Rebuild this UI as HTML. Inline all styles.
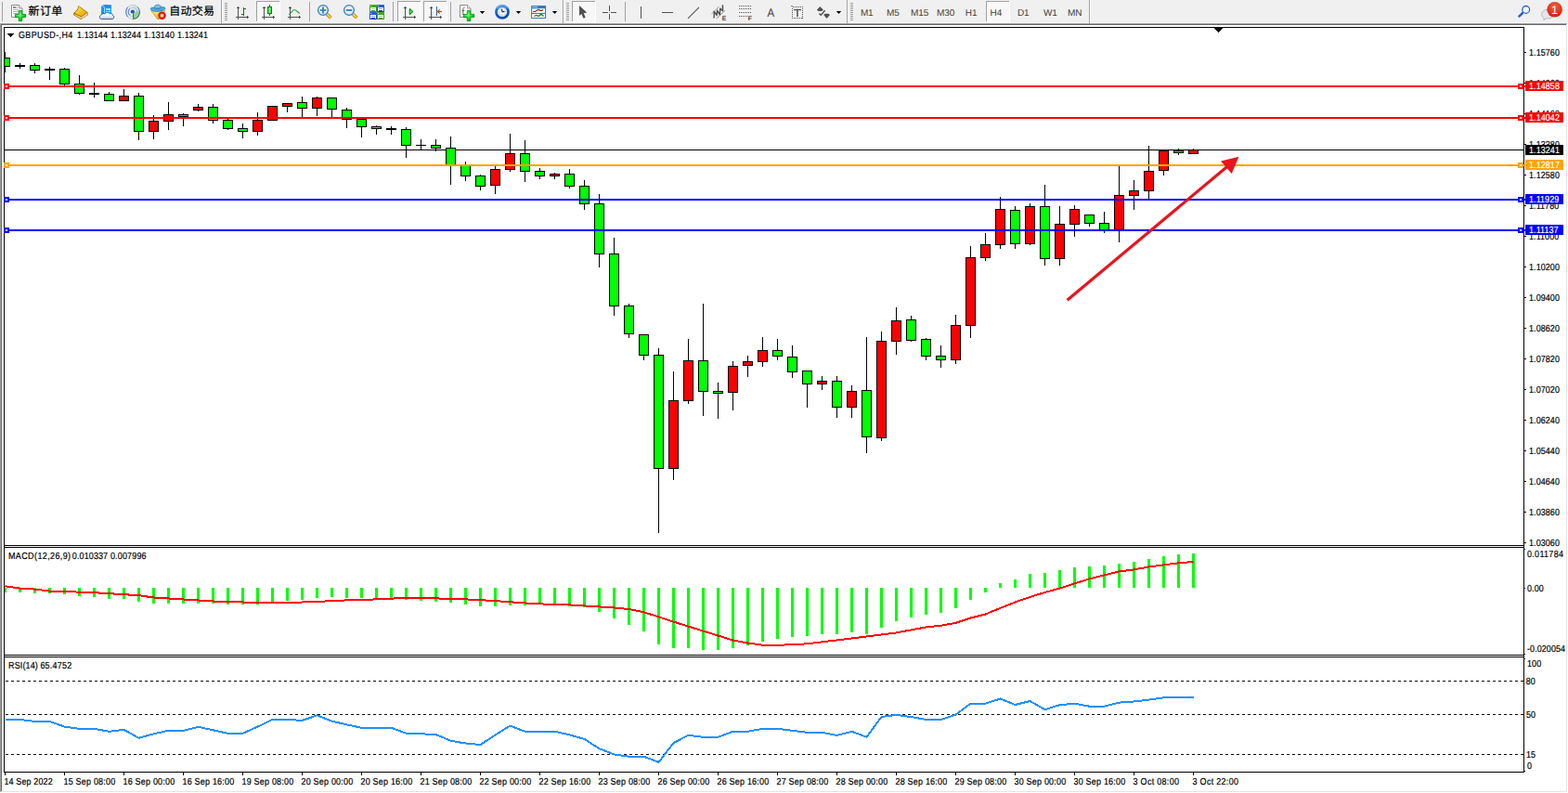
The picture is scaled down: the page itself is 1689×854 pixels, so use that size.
<!DOCTYPE html>
<html><head><meta charset="utf-8"><title>GBPUSD-,H4</title>
<style>html,body{margin:0;padding:0;background:#F0F0F0;overflow:hidden}svg{display:block}text{font-family:"Liberation Sans",sans-serif;white-space:pre}</style>
</head><body>
<svg width="1689" height="854" viewBox="0 0 1689 854">
<rect x="0" y="0" width="1689" height="854" fill="#F0F0F0"/>
<rect x="0" y="24" width="1689" height="1" fill="#F6F6F6"/>
<rect x="0" y="25" width="1689" height="829" fill="#FFFFFF"/>
<rect x="0" y="25" width="1688" height="1" fill="#A0A0A0"/>
<rect x="0" y="25" width="1" height="828" fill="#A0A0A0"/>
<rect x="1" y="26" width="1686" height="1" fill="#696969"/>
<rect x="1" y="26" width="1" height="826" fill="#696969"/>
<rect x="1" y="852" width="1687" height="1" fill="#E3E3E3"/>
<rect x="1687" y="26" width="1" height="827" fill="#E3E3E3"/>
<rect x="0" y="853" width="1689" height="1" fill="#FFFFFF"/>
<rect x="1688" y="25" width="1" height="829" fill="#FFFFFF"/>
<g shape-rendering="crispEdges">
<clipPath id="cm"><rect x="5" y="30" width="1636" height="557"/></clipPath>
<rect x="5" y="161" width="1636" height="1" fill="#000"/>
<g clip-path="url(#cm)">
<rect x="5" y="56" width="1" height="22" fill="#000"/>
<rect x="0" y="62" width="11" height="10" fill="#000"/>
<rect x="1" y="63" width="9" height="8" fill="#00FF00"/>
<rect x="21" y="68" width="1" height="6" fill="#000"/>
<rect x="16" y="70" width="11" height="2" fill="#000"/>
<rect x="37" y="68" width="1" height="11" fill="#000"/>
<rect x="32" y="70" width="11" height="6" fill="#000"/>
<rect x="33" y="71" width="9" height="4" fill="#00FF00"/>
<rect x="53" y="72" width="1" height="14" fill="#000"/>
<rect x="48" y="74" width="11" height="2" fill="#000"/>
<rect x="69" y="73" width="1" height="20" fill="#000"/>
<rect x="64" y="74" width="11" height="17" fill="#000"/>
<rect x="65" y="75" width="9" height="15" fill="#00FF00"/>
<rect x="85" y="81" width="1" height="21" fill="#000"/>
<rect x="80" y="90" width="11" height="11" fill="#000"/>
<rect x="81" y="91" width="9" height="9" fill="#00FF00"/>
<rect x="101" y="89" width="1" height="16" fill="#000"/>
<rect x="96" y="100" width="11" height="2" fill="#000"/>
<rect x="117" y="99" width="1" height="10" fill="#000"/>
<rect x="112" y="101" width="11" height="8" fill="#000"/>
<rect x="113" y="102" width="9" height="6" fill="#00FF00"/>
<rect x="133" y="96" width="1" height="13" fill="#000"/>
<rect x="128" y="103" width="11" height="6" fill="#000"/>
<rect x="129" y="104" width="9" height="4" fill="#FF0000"/>
<rect x="149" y="100" width="1" height="51" fill="#000"/>
<rect x="144" y="103" width="11" height="39" fill="#000"/>
<rect x="145" y="104" width="9" height="37" fill="#00FF00"/>
<rect x="165" y="124" width="1" height="26" fill="#000"/>
<rect x="160" y="130" width="11" height="12" fill="#000"/>
<rect x="161" y="131" width="9" height="10" fill="#FF0000"/>
<rect x="181" y="110" width="1" height="30" fill="#000"/>
<rect x="176" y="123" width="11" height="8" fill="#000"/>
<rect x="177" y="124" width="9" height="6" fill="#FF0000"/>
<rect x="197" y="122" width="1" height="14" fill="#000"/>
<rect x="192" y="123" width="11" height="3" fill="#000"/>
<rect x="193" y="124" width="9" height="1" fill="#00FF00"/>
<rect x="213" y="112" width="1" height="8" fill="#000"/>
<rect x="208" y="115" width="11" height="4" fill="#000"/>
<rect x="209" y="116" width="9" height="2" fill="#FF0000"/>
<rect x="229" y="112" width="1" height="21" fill="#000"/>
<rect x="224" y="115" width="11" height="15" fill="#000"/>
<rect x="225" y="116" width="9" height="13" fill="#00FF00"/>
<rect x="245" y="128" width="1" height="12" fill="#000"/>
<rect x="240" y="129" width="11" height="10" fill="#000"/>
<rect x="241" y="130" width="9" height="8" fill="#00FF00"/>
<rect x="261" y="133" width="1" height="16" fill="#000"/>
<rect x="256" y="138" width="11" height="4" fill="#000"/>
<rect x="257" y="139" width="9" height="2" fill="#00FF00"/>
<rect x="277" y="121" width="1" height="25" fill="#000"/>
<rect x="272" y="129" width="11" height="13" fill="#000"/>
<rect x="273" y="130" width="9" height="11" fill="#FF0000"/>
<rect x="293" y="114" width="1" height="16" fill="#000"/>
<rect x="288" y="114" width="11" height="16" fill="#000"/>
<rect x="289" y="115" width="9" height="14" fill="#FF0000"/>
<rect x="309" y="111" width="1" height="10" fill="#000"/>
<rect x="304" y="111" width="11" height="4" fill="#000"/>
<rect x="305" y="112" width="9" height="2" fill="#FF0000"/>
<rect x="325" y="104" width="1" height="22" fill="#000"/>
<rect x="320" y="110" width="11" height="7" fill="#000"/>
<rect x="321" y="111" width="9" height="5" fill="#00FF00"/>
<rect x="341" y="104" width="1" height="21" fill="#000"/>
<rect x="336" y="105" width="11" height="12" fill="#000"/>
<rect x="337" y="106" width="9" height="10" fill="#FF0000"/>
<rect x="357" y="105" width="1" height="21" fill="#000"/>
<rect x="352" y="105" width="11" height="13" fill="#000"/>
<rect x="353" y="106" width="9" height="11" fill="#00FF00"/>
<rect x="373" y="116" width="1" height="22" fill="#000"/>
<rect x="368" y="118" width="11" height="11" fill="#000"/>
<rect x="369" y="119" width="9" height="9" fill="#00FF00"/>
<rect x="389" y="128" width="1" height="20" fill="#000"/>
<rect x="384" y="128" width="11" height="9" fill="#000"/>
<rect x="385" y="129" width="9" height="7" fill="#00FF00"/>
<rect x="405" y="135" width="1" height="10" fill="#000"/>
<rect x="400" y="136" width="11" height="3" fill="#000"/>
<rect x="401" y="137" width="9" height="1" fill="#00FF00"/>
<rect x="421" y="136" width="1" height="9" fill="#000"/>
<rect x="416" y="138" width="11" height="2" fill="#000"/>
<rect x="437" y="137" width="1" height="33" fill="#000"/>
<rect x="432" y="139" width="11" height="18" fill="#000"/>
<rect x="433" y="140" width="9" height="16" fill="#00FF00"/>
<rect x="453" y="150" width="1" height="12" fill="#000"/>
<rect x="448" y="156" width="11" height="1" fill="#000"/>
<rect x="469" y="150" width="1" height="13" fill="#000"/>
<rect x="464" y="156" width="11" height="4" fill="#000"/>
<rect x="465" y="157" width="9" height="2" fill="#00FF00"/>
<rect x="485" y="147" width="1" height="52" fill="#000"/>
<rect x="480" y="159" width="11" height="19" fill="#000"/>
<rect x="481" y="160" width="9" height="17" fill="#00FF00"/>
<rect x="501" y="174" width="1" height="21" fill="#000"/>
<rect x="496" y="177" width="11" height="13" fill="#000"/>
<rect x="497" y="178" width="9" height="11" fill="#00FF00"/>
<rect x="517" y="188" width="1" height="17" fill="#000"/>
<rect x="512" y="189" width="11" height="12" fill="#000"/>
<rect x="513" y="190" width="9" height="10" fill="#00FF00"/>
<rect x="533" y="179" width="1" height="30" fill="#000"/>
<rect x="528" y="182" width="11" height="18" fill="#000"/>
<rect x="529" y="183" width="9" height="16" fill="#FF0000"/>
<rect x="549" y="144" width="1" height="41" fill="#000"/>
<rect x="544" y="165" width="11" height="18" fill="#000"/>
<rect x="545" y="166" width="9" height="16" fill="#FF0000"/>
<rect x="565" y="151" width="1" height="45" fill="#000"/>
<rect x="560" y="165" width="11" height="20" fill="#000"/>
<rect x="561" y="166" width="9" height="18" fill="#00FF00"/>
<rect x="581" y="181" width="1" height="12" fill="#000"/>
<rect x="576" y="184" width="11" height="6" fill="#000"/>
<rect x="577" y="185" width="9" height="4" fill="#00FF00"/>
<rect x="597" y="186" width="1" height="7" fill="#000"/>
<rect x="592" y="187" width="11" height="3" fill="#000"/>
<rect x="593" y="188" width="9" height="1" fill="#FF0000"/>
<rect x="613" y="182" width="1" height="21" fill="#000"/>
<rect x="608" y="187" width="11" height="14" fill="#000"/>
<rect x="609" y="188" width="9" height="12" fill="#00FF00"/>
<rect x="629" y="194" width="1" height="32" fill="#000"/>
<rect x="624" y="200" width="11" height="20" fill="#000"/>
<rect x="625" y="201" width="9" height="18" fill="#00FF00"/>
<rect x="645" y="209" width="1" height="79" fill="#000"/>
<rect x="640" y="219" width="11" height="55" fill="#000"/>
<rect x="641" y="220" width="9" height="53" fill="#00FF00"/>
<rect x="661" y="256" width="1" height="84" fill="#000"/>
<rect x="656" y="273" width="11" height="57" fill="#000"/>
<rect x="657" y="274" width="9" height="55" fill="#00FF00"/>
<rect x="677" y="327" width="1" height="37" fill="#000"/>
<rect x="672" y="329" width="11" height="31" fill="#000"/>
<rect x="673" y="330" width="9" height="29" fill="#00FF00"/>
<rect x="693" y="360" width="1" height="28" fill="#000"/>
<rect x="688" y="360" width="11" height="23" fill="#000"/>
<rect x="689" y="361" width="9" height="21" fill="#00FF00"/>
<rect x="709" y="375" width="1" height="199" fill="#000"/>
<rect x="704" y="382" width="11" height="123" fill="#000"/>
<rect x="705" y="383" width="9" height="121" fill="#00FF00"/>
<rect x="725" y="400" width="1" height="117" fill="#000"/>
<rect x="720" y="431" width="11" height="74" fill="#000"/>
<rect x="721" y="432" width="9" height="72" fill="#FF0000"/>
<rect x="741" y="365" width="1" height="70" fill="#000"/>
<rect x="736" y="388" width="11" height="44" fill="#000"/>
<rect x="737" y="389" width="9" height="42" fill="#FF0000"/>
<rect x="757" y="327" width="1" height="121" fill="#000"/>
<rect x="752" y="388" width="11" height="34" fill="#000"/>
<rect x="753" y="389" width="9" height="32" fill="#00FF00"/>
<rect x="773" y="412" width="1" height="39" fill="#000"/>
<rect x="768" y="421" width="11" height="3" fill="#000"/>
<rect x="769" y="422" width="9" height="1" fill="#00FF00"/>
<rect x="789" y="389" width="1" height="53" fill="#000"/>
<rect x="784" y="394" width="11" height="29" fill="#000"/>
<rect x="785" y="395" width="9" height="27" fill="#FF0000"/>
<rect x="805" y="383" width="1" height="23" fill="#000"/>
<rect x="800" y="389" width="11" height="5" fill="#000"/>
<rect x="801" y="390" width="9" height="3" fill="#FF0000"/>
<rect x="821" y="363" width="1" height="32" fill="#000"/>
<rect x="816" y="377" width="11" height="13" fill="#000"/>
<rect x="817" y="378" width="9" height="11" fill="#FF0000"/>
<rect x="837" y="365" width="1" height="23" fill="#000"/>
<rect x="832" y="377" width="11" height="7" fill="#000"/>
<rect x="833" y="378" width="9" height="5" fill="#00FF00"/>
<rect x="853" y="372" width="1" height="35" fill="#000"/>
<rect x="848" y="384" width="11" height="17" fill="#000"/>
<rect x="849" y="385" width="9" height="15" fill="#00FF00"/>
<rect x="869" y="399" width="1" height="40" fill="#000"/>
<rect x="864" y="399" width="11" height="15" fill="#000"/>
<rect x="865" y="400" width="9" height="13" fill="#00FF00"/>
<rect x="885" y="405" width="1" height="15" fill="#000"/>
<rect x="880" y="410" width="11" height="4" fill="#000"/>
<rect x="881" y="411" width="9" height="2" fill="#FF0000"/>
<rect x="901" y="405" width="1" height="45" fill="#000"/>
<rect x="896" y="410" width="11" height="29" fill="#000"/>
<rect x="897" y="411" width="9" height="27" fill="#00FF00"/>
<rect x="917" y="415" width="1" height="35" fill="#000"/>
<rect x="912" y="421" width="11" height="18" fill="#000"/>
<rect x="913" y="422" width="9" height="16" fill="#FF0000"/>
<rect x="933" y="363" width="1" height="125" fill="#000"/>
<rect x="928" y="420" width="11" height="51" fill="#000"/>
<rect x="929" y="421" width="9" height="49" fill="#00FF00"/>
<rect x="949" y="357" width="1" height="118" fill="#000"/>
<rect x="944" y="367" width="11" height="105" fill="#000"/>
<rect x="945" y="368" width="9" height="103" fill="#FF0000"/>
<rect x="965" y="331" width="1" height="51" fill="#000"/>
<rect x="960" y="345" width="11" height="23" fill="#000"/>
<rect x="961" y="346" width="9" height="21" fill="#FF0000"/>
<rect x="981" y="340" width="1" height="28" fill="#000"/>
<rect x="976" y="344" width="11" height="23" fill="#000"/>
<rect x="977" y="345" width="9" height="21" fill="#00FF00"/>
<rect x="997" y="364" width="1" height="24" fill="#000"/>
<rect x="992" y="365" width="11" height="19" fill="#000"/>
<rect x="993" y="366" width="9" height="17" fill="#00FF00"/>
<rect x="1013" y="372" width="1" height="24" fill="#000"/>
<rect x="1008" y="383" width="11" height="5" fill="#000"/>
<rect x="1009" y="384" width="9" height="3" fill="#00FF00"/>
<rect x="1029" y="339" width="1" height="53" fill="#000"/>
<rect x="1024" y="350" width="11" height="38" fill="#000"/>
<rect x="1025" y="351" width="9" height="36" fill="#FF0000"/>
<rect x="1045" y="265" width="1" height="99" fill="#000"/>
<rect x="1040" y="277" width="11" height="74" fill="#000"/>
<rect x="1041" y="278" width="9" height="72" fill="#FF0000"/>
<rect x="1061" y="251" width="1" height="30" fill="#000"/>
<rect x="1056" y="263" width="11" height="15" fill="#000"/>
<rect x="1057" y="264" width="9" height="13" fill="#FF0000"/>
<rect x="1077" y="212" width="1" height="56" fill="#000"/>
<rect x="1072" y="225" width="11" height="39" fill="#000"/>
<rect x="1073" y="226" width="9" height="37" fill="#FF0000"/>
<rect x="1093" y="222" width="1" height="46" fill="#000"/>
<rect x="1088" y="226" width="11" height="37" fill="#000"/>
<rect x="1089" y="227" width="9" height="35" fill="#00FF00"/>
<rect x="1109" y="219" width="1" height="45" fill="#000"/>
<rect x="1104" y="222" width="11" height="41" fill="#000"/>
<rect x="1105" y="223" width="9" height="39" fill="#FF0000"/>
<rect x="1125" y="199" width="1" height="87" fill="#000"/>
<rect x="1120" y="222" width="11" height="57" fill="#000"/>
<rect x="1121" y="223" width="9" height="55" fill="#00FF00"/>
<rect x="1141" y="222" width="1" height="64" fill="#000"/>
<rect x="1136" y="241" width="11" height="38" fill="#000"/>
<rect x="1137" y="242" width="9" height="36" fill="#FF0000"/>
<rect x="1157" y="221" width="1" height="34" fill="#000"/>
<rect x="1152" y="225" width="11" height="17" fill="#000"/>
<rect x="1153" y="226" width="9" height="15" fill="#FF0000"/>
<rect x="1173" y="231" width="1" height="13" fill="#000"/>
<rect x="1168" y="231" width="11" height="10" fill="#000"/>
<rect x="1169" y="232" width="9" height="8" fill="#00FF00"/>
<rect x="1189" y="228" width="1" height="23" fill="#000"/>
<rect x="1184" y="240" width="11" height="8" fill="#000"/>
<rect x="1185" y="241" width="9" height="6" fill="#00FF00"/>
<rect x="1205" y="179" width="1" height="82" fill="#000"/>
<rect x="1200" y="210" width="11" height="38" fill="#000"/>
<rect x="1201" y="211" width="9" height="36" fill="#FF0000"/>
<rect x="1221" y="194" width="1" height="32" fill="#000"/>
<rect x="1216" y="205" width="11" height="6" fill="#000"/>
<rect x="1217" y="206" width="9" height="4" fill="#FF0000"/>
<rect x="1237" y="157" width="1" height="57" fill="#000"/>
<rect x="1232" y="184" width="11" height="22" fill="#000"/>
<rect x="1233" y="185" width="9" height="20" fill="#FF0000"/>
<rect x="1253" y="162" width="1" height="27" fill="#000"/>
<rect x="1248" y="162" width="11" height="22" fill="#000"/>
<rect x="1249" y="163" width="9" height="20" fill="#FF0000"/>
<rect x="1269" y="160" width="1" height="7" fill="#000"/>
<rect x="1264" y="162" width="11" height="3" fill="#000"/>
<rect x="1265" y="163" width="9" height="1" fill="#00FF00"/>
<rect x="1285" y="160" width="1" height="6" fill="#000"/>
<rect x="1280" y="161" width="11" height="5" fill="#000"/>
<rect x="1281" y="162" width="9" height="3" fill="#FF0000"/>
</g>
<rect x="4" y="29" width="1" height="803" fill="#000"/>
<rect x="1641" y="29" width="1" height="803" fill="#000"/>
<rect x="4" y="29" width="1638" height="1" fill="#000"/>
<rect x="4" y="587" width="1638" height="1" fill="#000"/>
<rect x="4" y="589" width="1638" height="1" fill="#000"/>
<rect x="4" y="705" width="1638" height="1" fill="#000"/>
<rect x="4" y="707" width="1638" height="1" fill="#000"/>
<rect x="4" y="831" width="1638" height="1" fill="#000"/>
<rect x="5" y="92" width="1638" height="2" fill="#FF0000"/>
<rect x="4" y="90" width="6" height="6" fill="#FF0000"/>
<rect x="6" y="92" width="2" height="2" fill="#FFF"/>
<rect x="1635" y="90" width="6" height="6" fill="#FF0000"/>
<rect x="1637" y="92" width="2" height="2" fill="#FFF"/>
<rect x="5" y="126" width="1638" height="2" fill="#FF0000"/>
<rect x="4" y="124" width="6" height="6" fill="#FF0000"/>
<rect x="6" y="126" width="2" height="2" fill="#FFF"/>
<rect x="1635" y="124" width="6" height="6" fill="#FF0000"/>
<rect x="1637" y="126" width="2" height="2" fill="#FFF"/>
<rect x="5" y="177" width="1638" height="2" fill="#FFA500"/>
<rect x="4" y="175" width="6" height="6" fill="#FFA500"/>
<rect x="6" y="177" width="2" height="2" fill="#FFF"/>
<rect x="1635" y="175" width="6" height="6" fill="#FFA500"/>
<rect x="1637" y="177" width="2" height="2" fill="#FFF"/>
<rect x="5" y="214" width="1638" height="2" fill="#0000FF"/>
<rect x="4" y="212" width="6" height="6" fill="#0000FF"/>
<rect x="6" y="214" width="2" height="2" fill="#FFF"/>
<rect x="1635" y="212" width="6" height="6" fill="#0000FF"/>
<rect x="1637" y="214" width="2" height="2" fill="#FFF"/>
<rect x="5" y="247" width="1638" height="2" fill="#0000FF"/>
<rect x="4" y="245" width="6" height="6" fill="#0000FF"/>
<rect x="6" y="247" width="2" height="2" fill="#FFF"/>
<rect x="1635" y="245" width="6" height="6" fill="#0000FF"/>
<rect x="1637" y="247" width="2" height="2" fill="#FFF"/>
<rect x="1308" y="30" width="9" height="1" fill="#000"/>
<rect x="1309" y="31" width="7" height="1" fill="#000"/>
<rect x="1310" y="32" width="5" height="1" fill="#000"/>
<rect x="1311" y="33" width="3" height="1" fill="#000"/>
<rect x="1312" y="34" width="1" height="1" fill="#000"/>
</g>
<line x1="1149.6" y1="323.2" x2="1321.5" y2="179.8" stroke="#E8141E" stroke-width="3.2"/>
<polygon points="1334.5,168.8 1315.0,173.4 1326.7,187" fill="#E8141E"/>
<g shape-rendering="crispEdges">
<rect x="5" y="633" width="2" height="5" fill="#00FF00"/>
<rect x="20" y="633" width="3" height="5" fill="#00FF00"/>
<rect x="36" y="633" width="3" height="6" fill="#00FF00"/>
<rect x="52" y="633" width="3" height="6" fill="#00FF00"/>
<rect x="68" y="633" width="3" height="7" fill="#00FF00"/>
<rect x="84" y="633" width="3" height="9" fill="#00FF00"/>
<rect x="100" y="633" width="3" height="10" fill="#00FF00"/>
<rect x="116" y="633" width="3" height="12" fill="#00FF00"/>
<rect x="132" y="633" width="3" height="12" fill="#00FF00"/>
<rect x="148" y="633" width="3" height="15" fill="#00FF00"/>
<rect x="164" y="633" width="3" height="17" fill="#00FF00"/>
<rect x="180" y="633" width="3" height="17" fill="#00FF00"/>
<rect x="196" y="633" width="3" height="17" fill="#00FF00"/>
<rect x="212" y="633" width="3" height="17" fill="#00FF00"/>
<rect x="228" y="633" width="3" height="17" fill="#00FF00"/>
<rect x="244" y="633" width="3" height="18" fill="#00FF00"/>
<rect x="260" y="633" width="3" height="18" fill="#00FF00"/>
<rect x="276" y="633" width="3" height="18" fill="#00FF00"/>
<rect x="292" y="633" width="3" height="15" fill="#00FF00"/>
<rect x="308" y="633" width="3" height="14" fill="#00FF00"/>
<rect x="324" y="633" width="3" height="13" fill="#00FF00"/>
<rect x="340" y="633" width="3" height="11" fill="#00FF00"/>
<rect x="356" y="633" width="3" height="10" fill="#00FF00"/>
<rect x="372" y="633" width="3" height="11" fill="#00FF00"/>
<rect x="388" y="633" width="3" height="11" fill="#00FF00"/>
<rect x="404" y="633" width="3" height="11" fill="#00FF00"/>
<rect x="420" y="633" width="3" height="11" fill="#00FF00"/>
<rect x="436" y="633" width="3" height="13" fill="#00FF00"/>
<rect x="452" y="633" width="3" height="14" fill="#00FF00"/>
<rect x="468" y="633" width="3" height="15" fill="#00FF00"/>
<rect x="484" y="633" width="3" height="16" fill="#00FF00"/>
<rect x="500" y="633" width="3" height="18" fill="#00FF00"/>
<rect x="516" y="633" width="3" height="20" fill="#00FF00"/>
<rect x="532" y="633" width="3" height="20" fill="#00FF00"/>
<rect x="548" y="633" width="3" height="19" fill="#00FF00"/>
<rect x="564" y="633" width="3" height="19" fill="#00FF00"/>
<rect x="580" y="633" width="3" height="18" fill="#00FF00"/>
<rect x="596" y="633" width="3" height="18" fill="#00FF00"/>
<rect x="612" y="633" width="3" height="20" fill="#00FF00"/>
<rect x="628" y="633" width="3" height="21" fill="#00FF00"/>
<rect x="644" y="633" width="3" height="26" fill="#00FF00"/>
<rect x="660" y="633" width="3" height="33" fill="#00FF00"/>
<rect x="676" y="633" width="3" height="40" fill="#00FF00"/>
<rect x="692" y="633" width="3" height="47" fill="#00FF00"/>
<rect x="708" y="633" width="3" height="61" fill="#00FF00"/>
<rect x="724" y="633" width="3" height="65" fill="#00FF00"/>
<rect x="740" y="633" width="3" height="65" fill="#00FF00"/>
<rect x="756" y="633" width="3" height="67" fill="#00FF00"/>
<rect x="772" y="633" width="3" height="67" fill="#00FF00"/>
<rect x="788" y="633" width="3" height="65" fill="#00FF00"/>
<rect x="804" y="633" width="3" height="62" fill="#00FF00"/>
<rect x="820" y="633" width="3" height="58" fill="#00FF00"/>
<rect x="836" y="633" width="3" height="55" fill="#00FF00"/>
<rect x="852" y="633" width="3" height="53" fill="#00FF00"/>
<rect x="868" y="633" width="3" height="52" fill="#00FF00"/>
<rect x="884" y="633" width="3" height="50" fill="#00FF00"/>
<rect x="900" y="633" width="3" height="50" fill="#00FF00"/>
<rect x="916" y="633" width="3" height="48" fill="#00FF00"/>
<rect x="932" y="633" width="3" height="50" fill="#00FF00"/>
<rect x="948" y="633" width="3" height="43" fill="#00FF00"/>
<rect x="964" y="633" width="3" height="36" fill="#00FF00"/>
<rect x="980" y="633" width="3" height="32" fill="#00FF00"/>
<rect x="996" y="633" width="3" height="29" fill="#00FF00"/>
<rect x="1012" y="633" width="3" height="27" fill="#00FF00"/>
<rect x="1028" y="633" width="3" height="22" fill="#00FF00"/>
<rect x="1044" y="633" width="3" height="13" fill="#00FF00"/>
<rect x="1060" y="633" width="3" height="5" fill="#00FF00"/>
<rect x="1076" y="628" width="3" height="5" fill="#00FF00"/>
<rect x="1092" y="624" width="3" height="9" fill="#00FF00"/>
<rect x="1108" y="618" width="3" height="15" fill="#00FF00"/>
<rect x="1124" y="617" width="3" height="16" fill="#00FF00"/>
<rect x="1140" y="614" width="3" height="19" fill="#00FF00"/>
<rect x="1156" y="611" width="3" height="22" fill="#00FF00"/>
<rect x="1172" y="610" width="3" height="23" fill="#00FF00"/>
<rect x="1188" y="609" width="3" height="24" fill="#00FF00"/>
<rect x="1204" y="607" width="3" height="26" fill="#00FF00"/>
<rect x="1220" y="605" width="3" height="28" fill="#00FF00"/>
<rect x="1236" y="602" width="3" height="31" fill="#00FF00"/>
<rect x="1252" y="599" width="3" height="34" fill="#00FF00"/>
<rect x="1268" y="597" width="3" height="36" fill="#00FF00"/>
<rect x="1284" y="596" width="3" height="37" fill="#00FF00"/>
<polyline points="5.5,631.3 21.5,633.6 37.5,634.6 53.5,636.6 69.5,637.2 85.5,637.6 101.5,638.2 117.5,639.2 133.5,640.2 149.5,641.2 165.5,643.5 181.5,644.5 197.5,645.5 213.5,646.5 229.5,647.5 245.5,647.9 261.5,648.5 277.5,648.9 293.5,648.9 309.5,648.9 325.5,648.5 341.5,647.9 357.5,647.2 373.5,646.4 389.5,645.9 405.5,645.4 421.5,644.6 437.5,643.9 453.5,643.9 469.5,644.4 485.5,644.9 501.5,645.4 517.5,646.2 533.5,647.1 549.5,648.3 565.5,649.4 581.5,650.4 597.5,650.9 613.5,651.4 629.5,652.4 645.5,653.4 661.5,654.5 677.5,656.0 693.5,659.3 709.5,664.3 725.5,669.6 741.5,674.6 757.5,679.6 773.5,684.5 789.5,689.5 805.5,692.5 821.5,694.7 837.5,694.7 853.5,694.3 869.5,693.3 885.5,691.3 901.5,689.4 917.5,687.4 933.5,685.4 949.5,683.4 965.5,681.4 981.5,678.4 997.5,675.4 1013.5,673.8 1029.5,670.8 1045.5,665.5 1061.5,661.5 1077.5,654.8 1093.5,648.5 1109.5,642.9 1125.5,638.0 1141.5,633.6 1157.5,628.4 1173.5,623.4 1189.5,619.4 1205.5,615.4 1221.5,613.4 1237.5,610.5 1253.5,608.3 1269.5,606.3 1285.5,604.9" fill="none" stroke="#FF0000" stroke-width="2" stroke-linejoin="round"/>
<line x1="6" y1="733.5" x2="1641" y2="733.5" stroke="#000" stroke-width="1" stroke-dasharray="3 3"/>
<line x1="6" y1="769.5" x2="1641" y2="769.5" stroke="#000" stroke-width="1" stroke-dasharray="3 3"/>
<line x1="6" y1="812.5" x2="1641" y2="812.5" stroke="#000" stroke-width="1" stroke-dasharray="3 3"/>
<polyline points="5.5,774.9 21.5,774.9 37.5,776.9 53.5,776.9 69.5,782.6 85.5,784.8 101.5,784.8 117.5,787.8 133.5,785.8 149.5,794.8 165.5,790.3 181.5,786.8 197.5,786.8 213.5,782.8 229.5,786.3 245.5,789.8 261.5,789.8 277.5,782.6 293.5,774.9 309.5,774.9 325.5,775.9 341.5,770.4 357.5,776.6 373.5,780.4 389.5,783.8 405.5,783.8 421.5,783.8 437.5,789.8 453.5,790.3 469.5,791.0 485.5,797.8 501.5,800.5 517.5,802.0 533.5,791.5 549.5,781.6 565.5,787.8 581.5,787.8 597.5,787.8 613.5,791.3 629.5,796.0 645.5,806.2 661.5,812.4 677.5,814.7 693.5,814.7 709.5,820.9 725.5,800.0 741.5,791.8 757.5,793.8 773.5,793.8 789.5,787.8 805.5,787.8 821.5,784.8 837.5,784.8 853.5,786.8 869.5,788.8 885.5,788.8 901.5,792.0 917.5,787.8 933.5,793.8 949.5,771.9 965.5,769.9 981.5,772.1 997.5,774.9 1013.5,774.9 1029.5,769.7 1045.5,757.7 1061.5,757.7 1077.5,752.5 1093.5,759.0 1109.5,755.0 1125.5,764.2 1141.5,759.2 1157.5,757.7 1173.5,760.7 1189.5,760.7 1205.5,756.6 1221.5,755.5 1237.5,753.6 1253.5,751.3 1269.5,750.7 1285.5,750.7" fill="none" stroke="#1E90FF" stroke-width="2" stroke-linejoin="round"/>
<rect x="1642" y="56" width="2" height="1" fill="#000"/>
<rect x="1642" y="89" width="2" height="1" fill="#000"/>
<rect x="1642" y="122" width="2" height="1" fill="#000"/>
<rect x="1642" y="155" width="2" height="1" fill="#000"/>
<rect x="1642" y="188" width="2" height="1" fill="#000"/>
<rect x="1642" y="221" width="2" height="1" fill="#000"/>
<rect x="1642" y="254" width="2" height="1" fill="#000"/>
<rect x="1642" y="287" width="2" height="1" fill="#000"/>
<rect x="1642" y="320" width="2" height="1" fill="#000"/>
<rect x="1642" y="353" width="2" height="1" fill="#000"/>
<rect x="1642" y="386" width="2" height="1" fill="#000"/>
<rect x="1642" y="419" width="2" height="1" fill="#000"/>
<rect x="1642" y="452" width="2" height="1" fill="#000"/>
<rect x="1642" y="485" width="2" height="1" fill="#000"/>
<rect x="1642" y="518" width="2" height="1" fill="#000"/>
<rect x="1642" y="551" width="2" height="1" fill="#000"/>
<rect x="1642" y="584" width="2" height="1" fill="#000"/>
<rect x="1642" y="591" width="1" height="1" fill="#000"/>
<rect x="1642" y="633" width="1" height="1" fill="#000"/>
<rect x="1642" y="704" width="1" height="1" fill="#000"/>
<rect x="1642" y="709" width="1" height="1" fill="#000"/>
<rect x="1642" y="830" width="1" height="1" fill="#000"/>
<rect x="5" y="832" width="1" height="3" fill="#000"/>
<rect x="69" y="832" width="1" height="3" fill="#000"/>
<rect x="133" y="832" width="1" height="3" fill="#000"/>
<rect x="197" y="832" width="1" height="3" fill="#000"/>
<rect x="261" y="832" width="1" height="3" fill="#000"/>
<rect x="325" y="832" width="1" height="3" fill="#000"/>
<rect x="389" y="832" width="1" height="3" fill="#000"/>
<rect x="453" y="832" width="1" height="3" fill="#000"/>
<rect x="517" y="832" width="1" height="3" fill="#000"/>
<rect x="581" y="832" width="1" height="3" fill="#000"/>
<rect x="645" y="832" width="1" height="3" fill="#000"/>
<rect x="709" y="832" width="1" height="3" fill="#000"/>
<rect x="773" y="832" width="1" height="3" fill="#000"/>
<rect x="837" y="832" width="1" height="3" fill="#000"/>
<rect x="901" y="832" width="1" height="3" fill="#000"/>
<rect x="965" y="832" width="1" height="3" fill="#000"/>
<rect x="1029" y="832" width="1" height="3" fill="#000"/>
<rect x="1093" y="832" width="1" height="3" fill="#000"/>
<rect x="1157" y="832" width="1" height="3" fill="#000"/>
<rect x="1221" y="832" width="1" height="3" fill="#000"/>
<rect x="1285" y="832" width="1" height="3" fill="#000"/>
</g>
<g font-family="Liberation Sans, sans-serif" text-rendering="geometricPrecision">
<text transform="translate(1647,60) scale(0.88,1)" font-size="10.2" fill="#000" stroke="#000" stroke-width="0.2" letter-spacing="0.091">1.15760</text>
<text transform="translate(1647,93) scale(0.88,1)" font-size="10.2" fill="#000" stroke="#000" stroke-width="0.2" letter-spacing="0.091">1.14960</text>
<text transform="translate(1647,126) scale(0.88,1)" font-size="10.2" fill="#000" stroke="#000" stroke-width="0.2" letter-spacing="0.091">1.14160</text>
<text transform="translate(1647,159) scale(0.88,1)" font-size="10.2" fill="#000" stroke="#000" stroke-width="0.2" letter-spacing="0.091">1.13380</text>
<text transform="translate(1647,192) scale(0.88,1)" font-size="10.2" fill="#000" stroke="#000" stroke-width="0.2" letter-spacing="0.091">1.12580</text>
<text transform="translate(1647,225) scale(0.88,1)" font-size="10.2" fill="#000" stroke="#000" stroke-width="0.2" letter-spacing="0.091">1.11780</text>
<text transform="translate(1647,258) scale(0.88,1)" font-size="10.2" fill="#000" stroke="#000" stroke-width="0.2" letter-spacing="0.091">1.11000</text>
<text transform="translate(1647,291) scale(0.88,1)" font-size="10.2" fill="#000" stroke="#000" stroke-width="0.2" letter-spacing="0.091">1.10200</text>
<text transform="translate(1647,324) scale(0.88,1)" font-size="10.2" fill="#000" stroke="#000" stroke-width="0.2" letter-spacing="0.091">1.09400</text>
<text transform="translate(1647,357) scale(0.88,1)" font-size="10.2" fill="#000" stroke="#000" stroke-width="0.2" letter-spacing="0.091">1.08620</text>
<text transform="translate(1647,390) scale(0.88,1)" font-size="10.2" fill="#000" stroke="#000" stroke-width="0.2" letter-spacing="0.091">1.07820</text>
<text transform="translate(1647,423) scale(0.88,1)" font-size="10.2" fill="#000" stroke="#000" stroke-width="0.2" letter-spacing="0.091">1.07020</text>
<text transform="translate(1647,456) scale(0.88,1)" font-size="10.2" fill="#000" stroke="#000" stroke-width="0.2" letter-spacing="0.091">1.06240</text>
<text transform="translate(1647,489) scale(0.88,1)" font-size="10.2" fill="#000" stroke="#000" stroke-width="0.2" letter-spacing="0.091">1.05440</text>
<text transform="translate(1647,522) scale(0.88,1)" font-size="10.2" fill="#000" stroke="#000" stroke-width="0.2" letter-spacing="0.091">1.04640</text>
<text transform="translate(1647,555) scale(0.88,1)" font-size="10.2" fill="#000" stroke="#000" stroke-width="0.2" letter-spacing="0.091">1.03860</text>
<text transform="translate(1647,588) scale(0.88,1)" font-size="10.2" fill="#000" stroke="#000" stroke-width="0.2" letter-spacing="0.091">1.03060</text>
<rect x="1643" y="156" width="41" height="11" fill="#000" shape-rendering="crispEdges"/>
<text transform="translate(1647,165) scale(0.88,1)" font-size="10.2" fill="#FFF" stroke="#FFF" stroke-width="0.2" letter-spacing="0.091">1.13241</text>
<rect x="1643" y="87" width="41" height="11" fill="#FF0000" shape-rendering="crispEdges"/>
<text transform="translate(1647,96) scale(0.88,1)" font-size="10.2" fill="#FFF" stroke="#FFF" stroke-width="0.2" letter-spacing="0.091">1.14858</text>
<rect x="1643" y="121" width="41" height="11" fill="#FF0000" shape-rendering="crispEdges"/>
<text transform="translate(1647,130) scale(0.88,1)" font-size="10.2" fill="#FFF" stroke="#FFF" stroke-width="0.2" letter-spacing="0.091">1.14042</text>
<rect x="1643" y="172" width="41" height="11" fill="#FFA500" shape-rendering="crispEdges"/>
<text transform="translate(1647,181) scale(0.88,1)" font-size="10.2" fill="#FFF" stroke="#FFF" stroke-width="0.2" letter-spacing="0.091">1.12817</text>
<rect x="1643" y="209" width="41" height="11" fill="#0000FF" shape-rendering="crispEdges"/>
<text transform="translate(1647,218) scale(0.88,1)" font-size="10.2" fill="#FFF" stroke="#FFF" stroke-width="0.2" letter-spacing="0.091">1.11929</text>
<rect x="1643" y="242" width="41" height="11" fill="#0000FF" shape-rendering="crispEdges"/>
<text transform="translate(1647,251) scale(0.88,1)" font-size="10.2" fill="#FFF" stroke="#FFF" stroke-width="0.2" letter-spacing="0.091">1.11137</text>
<text transform="translate(1645,600) scale(0.88,1)" font-size="10.2" fill="#000" stroke="#000" stroke-width="0.2" letter-spacing="0.364">0.011784</text>
<text transform="translate(1645,637) scale(0.88,1)" font-size="10.2" fill="#000" stroke="#000" stroke-width="0.2" letter-spacing="0.091">0.00</text>
<text transform="translate(1645,702) scale(0.88,1)" font-size="10.2" fill="#000" stroke="#000" stroke-width="0.2" letter-spacing="0.091">-0.020054</text>
<text transform="translate(1645,718) scale(0.88,1)" font-size="10.2" fill="#000" stroke="#000" stroke-width="0.2" letter-spacing="0.091">100</text>
<text transform="translate(1643.7,737) scale(0.88,1)" font-size="10.2" fill="#000" stroke="#000" stroke-width="0.2" letter-spacing="0.091">80</text>
<text transform="translate(1643.9,773) scale(0.88,1)" font-size="10.2" fill="#000" stroke="#000" stroke-width="0.2" letter-spacing="0.091">50</text>
<text transform="translate(1643.9,816) scale(0.88,1)" font-size="10.2" fill="#000" stroke="#000" stroke-width="0.2" letter-spacing="0.091">15</text>
<text transform="translate(1645,828) scale(0.88,1)" font-size="10.2" fill="#000" stroke="#000" stroke-width="0.2" letter-spacing="0.091">0</text>
<text transform="translate(4.5,845) scale(0.88,1)" font-size="10.2" fill="#000" stroke="#000" stroke-width="0.2" letter-spacing="0.148">14 Sep 2022</text>
<text transform="translate(68.5,845) scale(0.88,1)" font-size="10.2" fill="#000" stroke="#000" stroke-width="0.2" letter-spacing="0.239">15 Sep 08:00</text>
<text transform="translate(132.5,845) scale(0.88,1)" font-size="10.2" fill="#000" stroke="#000" stroke-width="0.2" letter-spacing="0.239">16 Sep 00:00</text>
<text transform="translate(196.5,845) scale(0.88,1)" font-size="10.2" fill="#000" stroke="#000" stroke-width="0.2" letter-spacing="0.239">16 Sep 16:00</text>
<text transform="translate(260.5,845) scale(0.88,1)" font-size="10.2" fill="#000" stroke="#000" stroke-width="0.2" letter-spacing="0.239">19 Sep 08:00</text>
<text transform="translate(324.5,845) scale(0.88,1)" font-size="10.2" fill="#000" stroke="#000" stroke-width="0.2" letter-spacing="0.239">20 Sep 00:00</text>
<text transform="translate(388.5,845) scale(0.88,1)" font-size="10.2" fill="#000" stroke="#000" stroke-width="0.2" letter-spacing="0.239">20 Sep 16:00</text>
<text transform="translate(452.5,845) scale(0.88,1)" font-size="10.2" fill="#000" stroke="#000" stroke-width="0.2" letter-spacing="0.239">21 Sep 08:00</text>
<text transform="translate(516.5,845) scale(0.88,1)" font-size="10.2" fill="#000" stroke="#000" stroke-width="0.2" letter-spacing="0.239">22 Sep 00:00</text>
<text transform="translate(580.5,845) scale(0.88,1)" font-size="10.2" fill="#000" stroke="#000" stroke-width="0.2" letter-spacing="0.239">22 Sep 16:00</text>
<text transform="translate(644.5,845) scale(0.88,1)" font-size="10.2" fill="#000" stroke="#000" stroke-width="0.2" letter-spacing="0.239">23 Sep 08:00</text>
<text transform="translate(708.5,845) scale(0.88,1)" font-size="10.2" fill="#000" stroke="#000" stroke-width="0.2" letter-spacing="0.239">26 Sep 00:00</text>
<text transform="translate(772.5,845) scale(0.88,1)" font-size="10.2" fill="#000" stroke="#000" stroke-width="0.2" letter-spacing="0.239">26 Sep 16:00</text>
<text transform="translate(836.5,845) scale(0.88,1)" font-size="10.2" fill="#000" stroke="#000" stroke-width="0.2" letter-spacing="0.239">27 Sep 08:00</text>
<text transform="translate(900.5,845) scale(0.88,1)" font-size="10.2" fill="#000" stroke="#000" stroke-width="0.2" letter-spacing="0.239">28 Sep 00:00</text>
<text transform="translate(964.5,845) scale(0.88,1)" font-size="10.2" fill="#000" stroke="#000" stroke-width="0.2" letter-spacing="0.239">28 Sep 16:00</text>
<text transform="translate(1028.5,845) scale(0.88,1)" font-size="10.2" fill="#000" stroke="#000" stroke-width="0.2" letter-spacing="0.239">29 Sep 08:00</text>
<text transform="translate(1092.5,845) scale(0.88,1)" font-size="10.2" fill="#000" stroke="#000" stroke-width="0.2" letter-spacing="0.239">30 Sep 00:00</text>
<text transform="translate(1156.5,845) scale(0.88,1)" font-size="10.2" fill="#000" stroke="#000" stroke-width="0.2" letter-spacing="0.239">30 Sep 16:00</text>
<text transform="translate(1220.5,845) scale(0.88,1)" font-size="10.2" fill="#000" stroke="#000" stroke-width="0.2" letter-spacing="0.353">3 Oct 08:00</text>
<text transform="translate(1284.5,845) scale(0.88,1)" font-size="10.2" fill="#000" stroke="#000" stroke-width="0.2" letter-spacing="0.353">3 Oct 22:00</text>
<polygon points="8,36 15,36 11.5,40" fill="#000" shape-rendering="crispEdges"/>
<text transform="translate(20,41) scale(0.88,1)" font-size="10.2" fill="#000" stroke="#000" stroke-width="0.2" letter-spacing="0.432">GBPUSD-,H4</text>
<text transform="translate(83,41) scale(0.88,1)" font-size="10.2" fill="#000" stroke="#000" stroke-width="0.2" letter-spacing="0.091">1.13144</text>
<text transform="translate(119,41) scale(0.88,1)" font-size="10.2" fill="#000" stroke="#000" stroke-width="0.2" letter-spacing="0.091">1.13244</text>
<text transform="translate(155,41) scale(0.88,1)" font-size="10.2" fill="#000" stroke="#000" stroke-width="0.2" letter-spacing="0.091">1.13140</text>
<text transform="translate(191,41) scale(0.88,1)" font-size="10.2" fill="#000" stroke="#000" stroke-width="0.2" letter-spacing="0.091">1.13241</text>
<text transform="translate(9,602) scale(0.88,1)" font-size="10.2" fill="#000" stroke="#000" stroke-width="0.2" letter-spacing="0.455">MACD(12,26,9)</text>
<text transform="translate(77.8,602) scale(0.88,1)" font-size="10.2" fill="#000" stroke="#000" stroke-width="0.2" letter-spacing="0.148">0.010337</text>
<text transform="translate(118.9,602) scale(0.88,1)" font-size="10.2" fill="#000" stroke="#000" stroke-width="0.2" letter-spacing="0.205">0.007996</text>
<text transform="translate(9,720) scale(0.88,1)" font-size="10.2" fill="#000" stroke="#000" stroke-width="0.2" letter-spacing="0.182">RSI(14)</text>
<text transform="translate(43.4,720) scale(0.88,1)" font-size="10.2" fill="#000" stroke="#000" stroke-width="0.2" letter-spacing="0.262">65.4752</text>
</g>
<defs>
<pattern id="chk" width="2" height="2" patternUnits="userSpaceOnUse"><rect width="2" height="2" fill="#FFFFFF"/><rect width="1" height="1" fill="#F0F0F0"/><rect x="1" y="1" width="1" height="1" fill="#F0F0F0"/></pattern>
<radialGradient id="gPlus" cx="0.42" cy="0.4" r="0.6"><stop offset="0" stop-color="#7CFF88"/><stop offset="0.55" stop-color="#18E030"/><stop offset="1" stop-color="#00B010"/></radialGradient>
<linearGradient id="gGold" x1="0" y1="0" x2="1" y2="1"><stop offset="0" stop-color="#FFF078"/><stop offset="0.45" stop-color="#F4C81C"/><stop offset="1" stop-color="#DCA010"/></linearGradient>
<linearGradient id="gBlue" x1="0" y1="0" x2="0" y2="1"><stop offset="0" stop-color="#5AB0F0"/><stop offset="1" stop-color="#1060C8"/></linearGradient>
<linearGradient id="gGreenT" x1="0" y1="0" x2="0" y2="1"><stop offset="0" stop-color="#44AC20"/><stop offset="1" stop-color="#2C9808"/></linearGradient>
<linearGradient id="gBlueT" x1="0" y1="0" x2="0" y2="1"><stop offset="0" stop-color="#3464D8"/><stop offset="1" stop-color="#0C38BC"/></linearGradient>
<radialGradient id="gLens" cx="0.4" cy="0.35" r="0.7"><stop offset="0" stop-color="#FFFFFF"/><stop offset="1" stop-color="#B8E0F8"/></radialGradient>
<radialGradient id="gRed" cx="0.5" cy="0.3" r="0.8"><stop offset="0" stop-color="#F06040"/><stop offset="1" stop-color="#D01808"/></radialGradient>
<linearGradient id="gHandle" x1="0" y1="0" x2="1" y2="0"><stop offset="0" stop-color="#F8E070"/><stop offset="1" stop-color="#B88810"/></linearGradient>
<radialGradient id="gClock" cx="0.5" cy="0.4" r="0.6"><stop offset="0" stop-color="#FFFFFF"/><stop offset="1" stop-color="#D8E4F0"/></radialGradient>
<linearGradient id="gCandle" x1="0" y1="0" x2="1" y2="0"><stop offset="0" stop-color="#38E048"/><stop offset="0.5" stop-color="#88FF90"/><stop offset="1" stop-color="#28D038"/></linearGradient>
<linearGradient id="gHat" x1="0" y1="0" x2="0" y2="1"><stop offset="0" stop-color="#9CD4F4"/><stop offset="1" stop-color="#4CA4DC"/></linearGradient>
<linearGradient id="gFace" x1="0" y1="0" x2="0" y2="1"><stop offset="0" stop-color="#FFF080"/><stop offset="1" stop-color="#E8B010"/></linearGradient>
<linearGradient id="gCloud" x1="0" y1="0" x2="0" y2="1"><stop offset="0" stop-color="#FFFFFF"/><stop offset="0.5" stop-color="#F0F4FA"/><stop offset="1" stop-color="#B4C2DC"/></linearGradient>
<linearGradient id="gRing" x1="0.2" y1="0" x2="0.7" y2="1"><stop offset="0" stop-color="#2C8CF0"/><stop offset="0.5" stop-color="#0C60C0"/><stop offset="1" stop-color="#0848A0"/></linearGradient>
</defs>
<g id="toolbar" text-rendering="geometricPrecision">
<rect x="2" y="2" width="1" height="21" fill="#A0A0A0" shape-rendering="crispEdges"/>
<rect x="238" y="0" width="1" height="25" fill="#A0A0A0" shape-rendering="crispEdges"/>
<rect x="239" y="0" width="1" height="25" fill="#FFFFFF" shape-rendering="crispEdges"/>
<rect x="606" y="0" width="1" height="25" fill="#A0A0A0" shape-rendering="crispEdges"/>
<rect x="607" y="0" width="1" height="25" fill="#FFFFFF" shape-rendering="crispEdges"/>
<rect x="912" y="0" width="1" height="25" fill="#A0A0A0" shape-rendering="crispEdges"/>
<rect x="913" y="0" width="1" height="25" fill="#FFFFFF" shape-rendering="crispEdges"/>
<rect x="1173" y="0" width="1" height="25" fill="#A0A0A0" shape-rendering="crispEdges"/>
<rect x="1174" y="0" width="1" height="25" fill="#FFFFFF" shape-rendering="crispEdges"/>
<rect x="242" y="3" width="3" height="1" fill="#9C9C9C" shape-rendering="crispEdges"/>
<rect x="242" y="5" width="3" height="1" fill="#9C9C9C" shape-rendering="crispEdges"/>
<rect x="242" y="7" width="3" height="1" fill="#9C9C9C" shape-rendering="crispEdges"/>
<rect x="242" y="9" width="3" height="1" fill="#9C9C9C" shape-rendering="crispEdges"/>
<rect x="242" y="11" width="3" height="1" fill="#9C9C9C" shape-rendering="crispEdges"/>
<rect x="242" y="13" width="3" height="1" fill="#9C9C9C" shape-rendering="crispEdges"/>
<rect x="242" y="15" width="3" height="1" fill="#9C9C9C" shape-rendering="crispEdges"/>
<rect x="242" y="17" width="3" height="1" fill="#9C9C9C" shape-rendering="crispEdges"/>
<rect x="242" y="19" width="3" height="1" fill="#9C9C9C" shape-rendering="crispEdges"/>
<rect x="242" y="21" width="3" height="1" fill="#9C9C9C" shape-rendering="crispEdges"/>
<rect x="610" y="3" width="3" height="1" fill="#9C9C9C" shape-rendering="crispEdges"/>
<rect x="610" y="5" width="3" height="1" fill="#9C9C9C" shape-rendering="crispEdges"/>
<rect x="610" y="7" width="3" height="1" fill="#9C9C9C" shape-rendering="crispEdges"/>
<rect x="610" y="9" width="3" height="1" fill="#9C9C9C" shape-rendering="crispEdges"/>
<rect x="610" y="11" width="3" height="1" fill="#9C9C9C" shape-rendering="crispEdges"/>
<rect x="610" y="13" width="3" height="1" fill="#9C9C9C" shape-rendering="crispEdges"/>
<rect x="610" y="15" width="3" height="1" fill="#9C9C9C" shape-rendering="crispEdges"/>
<rect x="610" y="17" width="3" height="1" fill="#9C9C9C" shape-rendering="crispEdges"/>
<rect x="610" y="19" width="3" height="1" fill="#9C9C9C" shape-rendering="crispEdges"/>
<rect x="610" y="21" width="3" height="1" fill="#9C9C9C" shape-rendering="crispEdges"/>
<rect x="916" y="3" width="3" height="1" fill="#9C9C9C" shape-rendering="crispEdges"/>
<rect x="916" y="5" width="3" height="1" fill="#9C9C9C" shape-rendering="crispEdges"/>
<rect x="916" y="7" width="3" height="1" fill="#9C9C9C" shape-rendering="crispEdges"/>
<rect x="916" y="9" width="3" height="1" fill="#9C9C9C" shape-rendering="crispEdges"/>
<rect x="916" y="11" width="3" height="1" fill="#9C9C9C" shape-rendering="crispEdges"/>
<rect x="916" y="13" width="3" height="1" fill="#9C9C9C" shape-rendering="crispEdges"/>
<rect x="916" y="15" width="3" height="1" fill="#9C9C9C" shape-rendering="crispEdges"/>
<rect x="916" y="17" width="3" height="1" fill="#9C9C9C" shape-rendering="crispEdges"/>
<rect x="916" y="19" width="3" height="1" fill="#9C9C9C" shape-rendering="crispEdges"/>
<rect x="916" y="21" width="3" height="1" fill="#9C9C9C" shape-rendering="crispEdges"/>
<rect x="333" y="2" width="1" height="21" fill="#A0A0A0" shape-rendering="crispEdges"/>
<rect x="423" y="2" width="1" height="21" fill="#A0A0A0" shape-rendering="crispEdges"/>
<rect x="485" y="2" width="1" height="21" fill="#A0A0A0" shape-rendering="crispEdges"/>
<rect x="673" y="2" width="1" height="21" fill="#A0A0A0" shape-rendering="crispEdges"/>
<g shape-rendering="crispEdges"><rect x="276" y="1" width="26" height="23" fill="url(#chk)"/><rect x="276" y="1" width="26" height="1" fill="#A0A0A0"/><rect x="276" y="1" width="1" height="23" fill="#A0A0A0"/><rect x="276" y="23" width="26" height="1" fill="#FFFFFF"/><rect x="301" y="1" width="1" height="23" fill="#FFFFFF"/></g>
<g shape-rendering="crispEdges"><rect x="428" y="1" width="26" height="23" fill="url(#chk)"/><rect x="428" y="1" width="26" height="1" fill="#A0A0A0"/><rect x="428" y="1" width="1" height="23" fill="#A0A0A0"/><rect x="428" y="23" width="26" height="1" fill="#FFFFFF"/><rect x="453" y="1" width="1" height="23" fill="#FFFFFF"/></g>
<g shape-rendering="crispEdges"><rect x="456" y="1" width="26" height="23" fill="url(#chk)"/><rect x="456" y="1" width="26" height="1" fill="#A0A0A0"/><rect x="456" y="1" width="1" height="23" fill="#A0A0A0"/><rect x="456" y="23" width="26" height="1" fill="#FFFFFF"/><rect x="481" y="1" width="1" height="23" fill="#FFFFFF"/></g>
<g shape-rendering="crispEdges"><rect x="616" y="1" width="26" height="23" fill="url(#chk)"/><rect x="616" y="1" width="26" height="1" fill="#A0A0A0"/><rect x="616" y="1" width="1" height="23" fill="#A0A0A0"/><rect x="616" y="23" width="26" height="1" fill="#FFFFFF"/><rect x="641" y="1" width="1" height="23" fill="#FFFFFF"/></g>
<g shape-rendering="crispEdges"><rect x="1062" y="1" width="26" height="23" fill="url(#chk)"/><rect x="1062" y="1" width="26" height="1" fill="#A0A0A0"/><rect x="1062" y="1" width="1" height="23" fill="#A0A0A0"/><rect x="1062" y="23" width="26" height="1" fill="#FFFFFF"/><rect x="1087" y="1" width="1" height="23" fill="#FFFFFF"/></g>
<path d="M12.5,5.5 h8 l3.5,3.5 v9.5 h-11.5 z" fill="#FFFFFF" stroke="#8C8C8C" stroke-width="1"/>
<path d="M20.5,5.5 v3.5 h3.5" fill="#E8E8E8" stroke="#8C8C8C" stroke-width="0.8"/>
<rect x="14" y="8" width="5" height="1" fill="#B0B0B0"/>
<rect x="14" y="10" width="6" height="1" fill="#B0B0B0"/>
<rect x="14" y="12" width="6" height="1" fill="#B0B0B0"/>
<rect x="14" y="14" width="6" height="1" fill="#B0B0B0"/>
<rect x="14" y="7" width="3" height="2" fill="#909090"/>
<path d="M20.3,11.399999999999999 h3.4 v4 h4 v3.2 h-4 v4 h-3.4 v-4 h-4 v-3.2 h4 z" fill="url(#gPlus)" stroke="#008A08" stroke-width="0.8" stroke-linejoin="round"/>
<path d="M84.6,5.9 L94.6,13.4 L95,16 L87,21.1 L79.1,16 L79.1,14.3 L83.3,9.9 Z" fill="#A86C08"/>
<path d="M94,14.1 L94.3,15.7 L87.3,20.2 L87.8,18.3 Z" fill="#EFE4B0"/>
<path d="M80.1,14.9 L87.6,18.5 L87,20.2 L80,15.8 Z" fill="#F4D878"/>
<path d="M85,7.1 L93.4,13.6 L87.7,17.5 L80.5,14 L84.1,10.3 Z" fill="url(#gGold)"/>
<path d="M109.4,6 L113,5 L119.8,5.2 L120,7.8 L120,14 L109.3,15 Z" fill="#2C84E8"/>
<path d="M112.6,7.9 H119.9 V14.4 H112.6 Z" fill="#08A4FF"/>
<path d="M109.3,6.4 L112.5,7.9 V15 H109.3 Z" fill="#0C94F4"/>
<path d="M109.6,6.2 L112.5,7.8 V14.6" fill="none" stroke="#E8F6FF" stroke-width="0.7"/>
<rect x="114.2" y="9.4" width="4.8" height="1.3" fill="#FFFFFF"/>
<rect x="114" y="12.2" width="5.2" height="1" fill="#C0E8FF"/>
<path d="M109.4,20.6 C106.6,20.4 106.6,16.6 109.4,16 C109.8,14.3 112,13.9 112.9,15.1 C113.6,12.6 117.6,12.8 118.3,15 C119.6,13.9 121.4,14.8 121,16.2 C123.4,16.6 123.2,20.4 120.8,20.6 Z" fill="url(#gCloud)" stroke="#3C5898" stroke-width="1"/>
<path d="M143,12.9 L143.6,5.300000000000001 A7.7,7.7 0 0 1 143.6,20.6 Z" fill="#D4EACE" opacity="0.8"/>
<path d="M143,12.9 L150.6,12.3 A7.7,7.7 0 0 1 143.6,20.6 Z" fill="#9CD094" opacity="0.85"/>
<circle cx="143" cy="12.9" r="7.4" fill="none" stroke="#86A4E0" stroke-width="1" opacity="0.55"/>
<path d="M137.8,7.7 A7.4,7.4 0 0 0 137.8,18.1" fill="none" stroke="#4870D0" stroke-width="1.1" opacity="0.8"/>
<path d="M148.2,7.7 A7.4,7.4 0 0 1 150.4,12.9" fill="none" stroke="#5078B8" stroke-width="1.1" opacity="0.8"/>
<circle cx="143" cy="12.9" r="4.8" fill="none" stroke="#7C9CE0" stroke-width="1" opacity="0.6"/>
<path d="M139.6,9.5 A4.8,4.8 0 0 0 139.6,16.3" fill="none" stroke="#4C74D4" stroke-width="1.1" opacity="0.8"/>
<path d="M144.2,20.3 A7.5,7.5 0 0 0 150.5,12.3" fill="none" stroke="#408C50" stroke-width="1.3"/>
<circle cx="142.8" cy="12.5" r="2.1" fill="#2450CC"/>
<rect x="143" y="13.1" width="1.2" height="7.8" fill="#18A018"/>
<path d="M162.8,11.6 L177.8,11.2 L171.2,20.8 L169.4,20.4 Z" fill="url(#gFace)" stroke="#C89010" stroke-width="0.7"/>
<path d="M162.3,9.6 C162.2,8.2 164.2,7.6 166,8.4 C168,10.2 172,10 173.6,8 C175.4,7.2 178.2,7.6 178,9.2 C177.2,11.4 172,12.5 168.6,12.4 C165.6,12.4 162.6,11.6 162.3,9.6 Z" fill="#54A8DC" stroke="#1C78AC" stroke-width="0.7"/>
<path d="M166.2,8.6 C166,6.6 167.4,5.1 169.8,5.1 C172.2,5.1 173.6,6.4 173.4,8.2 C172,9.8 167.8,10 166.2,8.6 Z" fill="url(#gHat)" stroke="#1C78AC" stroke-width="0.7"/>
<circle cx="174.5" cy="16.8" r="4.2" fill="#C01000"/>
<circle cx="174.5" cy="16.8" r="3.4" fill="#EC2808"/>
<rect x="173" y="15.3" width="3" height="2.9" fill="#FFFFFF"/>
<g fill="#505050" shape-rendering="crispEdges"><rect x="256" y="7" width="1" height="14"/><rect x="255" y="8" width="3" height="1"/><rect x="254" y="18" width="14" height="1"/><rect x="266" y="17" width="1" height="3"/></g>
<g fill="#008000" shape-rendering="crispEdges"><rect x="262" y="8" width="1" height="9"/><rect x="263" y="9" width="2" height="1"/><rect x="260" y="15" width="2" height="1"/></g>
<g fill="#505050" shape-rendering="crispEdges"><rect x="284" y="7" width="1" height="14"/><rect x="283" y="8" width="3" height="1"/><rect x="282" y="18" width="14" height="1"/><rect x="294" y="17" width="1" height="3"/></g>
<g shape-rendering="crispEdges"><rect x="290" y="5" width="1" height="12" fill="#008000"/><rect x="288" y="7" width="5" height="8" fill="#008000"/><rect x="289" y="8" width="3" height="6" fill="url(#gCandle)"/></g>
<g fill="#505050" shape-rendering="crispEdges"><rect x="312" y="7" width="1" height="14"/><rect x="311" y="8" width="3" height="1"/><rect x="310" y="18" width="14" height="1"/><rect x="322" y="17" width="1" height="3"/></g>
<path d="M311.2,15.6 C313.4,14.6 315,10.5 317.2,10.5 C319,10.5 320.4,13.4 322.8,14.2" fill="none" stroke="#2C9C2C" stroke-width="1.2"/>
<path d="M352.2,15.2 L356.4,19.3" stroke="#B07C08" stroke-width="3.4" stroke-linecap="butt"/>
<path d="M352.2,15.2 L356.2,19.1" stroke="#F4DC48" stroke-width="1.8" stroke-linecap="butt"/>
<circle cx="348" cy="11" r="5.4" fill="url(#gLens)" stroke="#3878C8" stroke-width="1.25"/>
<rect x="344.9" y="10" width="6.2" height="1.9" fill="#4484AC"/>
<rect x="347.05" y="7.5" width="1.9" height="7" fill="#4484AC"/>
<path d="M380.2,15.2 L384.4,19.3" stroke="#B07C08" stroke-width="3.4" stroke-linecap="butt"/>
<path d="M380.2,15.2 L384.2,19.1" stroke="#F4DC48" stroke-width="1.8" stroke-linecap="butt"/>
<circle cx="376" cy="11" r="5.4" fill="url(#gLens)" stroke="#3878C8" stroke-width="1.25"/>
<rect x="372.9" y="10" width="6.2" height="1.9" fill="#4484AC"/>
<rect x="398" y="5" width="8" height="8" rx="0.7" fill="url(#gGreenT)"/>
<path d="M399,8 h6 v4 h-1 v-1 h-4 v1 h-1 z" fill="#FFFFFF"/>
<rect x="400" y="9.1" width="4" height="0.9" fill="url(#gGreenT)" opacity="0.55"/>
<rect x="399.1" y="6.1" width="1" height="1" fill="#FFFFFF" opacity="0.85"/>
<rect x="406" y="5" width="8" height="8" rx="0.7" fill="url(#gBlueT)"/>
<path d="M407,8 h6 v4 h-1 v-1 h-4 v1 h-1 z" fill="#FFFFFF"/>
<rect x="408" y="9.1" width="4" height="0.9" fill="url(#gBlueT)" opacity="0.55"/>
<rect x="407.1" y="6.1" width="1" height="1" fill="#FFFFFF" opacity="0.85"/>
<rect x="398" y="13" width="8" height="8" rx="0.7" fill="url(#gBlueT)"/>
<path d="M399,16 h6 v4 h-1 v-1 h-4 v1 h-1 z" fill="#FFFFFF"/>
<rect x="400" y="17.1" width="4" height="0.9" fill="url(#gBlueT)" opacity="0.55"/>
<rect x="399.1" y="14.1" width="1" height="1" fill="#FFFFFF" opacity="0.85"/>
<rect x="406" y="13" width="8" height="8" rx="0.7" fill="url(#gGreenT)"/>
<path d="M407,16 h6 v4 h-1 v-1 h-4 v1 h-1 z" fill="#FFFFFF"/>
<rect x="408" y="17.1" width="4" height="0.9" fill="url(#gGreenT)" opacity="0.55"/>
<rect x="407.1" y="14.1" width="1" height="1" fill="#FFFFFF" opacity="0.85"/>
<g fill="#505050" shape-rendering="crispEdges"><rect x="436" y="7" width="1" height="14"/><rect x="435" y="8" width="3" height="1"/><rect x="434" y="18" width="14" height="1"/><rect x="446" y="17" width="1" height="3"/></g>
<path d="M441.3,9.4 L444.6,12.5 L441.3,15.6 Z" fill="#78F080" stroke="#109818" stroke-width="1.2" stroke-linejoin="round"/>
<g fill="#505050" shape-rendering="crispEdges"><rect x="464" y="7" width="1" height="14"/><rect x="463" y="8" width="3" height="1"/><rect x="462" y="18" width="14" height="1"/><rect x="474" y="17" width="1" height="3"/></g>
<rect x="470" y="7" width="1" height="10" fill="#1870A0" shape-rendering="crispEdges"/>
<path d="M471.2,12.5 L476,12.5 M473.6,10.3 L471.4,12.5 L473.6,14.7" stroke="#C84008" stroke-width="1.2" fill="none"/>
<path d="M495.5,5.5 h8 l3.5,3.5 v9.5 h-11.5 z" fill="#FFFFFF" stroke="#8C8C8C" stroke-width="1"/>
<path d="M503.5,5.5 v3.5 h3.5" fill="#E8E8E8" stroke="#8C8C8C" stroke-width="0.8"/>
<path d="M500.6,8.2 c-1.4,-0.2 -1.8,0.6 -1.8,1.8 v6 M497.8,11.4 h2.6" stroke="#5A5030" stroke-width="0.9" fill="none"/>
<path d="M503.3,11.399999999999999 h3.4 v4 h4 v3.2 h-4 v4 h-3.4 v-4 h-4 v-3.2 h4 z" fill="url(#gPlus)" stroke="#008A08" stroke-width="0.8" stroke-linejoin="round"/>
<polygon points="516.8,12 522.2,12 519.5,15.1" fill="#000"/>
<polygon points="555.8,12 561.2,12 558.5,15.1" fill="#000"/>
<polygon points="594.8,12 600.2,12 597.5,15.1" fill="#000"/>
<polygon points="900.8,12 906.2,12 903.5,15.1" fill="#000"/>
<circle cx="541" cy="12.9" r="7.9" fill="url(#gRing)"/>
<path d="M535.4,9 A6.9,6.9 0 0 1 546.6,9" fill="none" stroke="#6CBCFF" stroke-width="1.3" opacity="0.75"/>
<circle cx="541" cy="12.9" r="5.2" fill="url(#gClock)"/>
<g fill="#9098A0"><rect x="540.6" y="8.5" width="0.8" height="0.9"/><rect x="540.6" y="16.4" width="0.8" height="0.9"/><rect x="536.6" y="12.5" width="0.9" height="0.8"/><rect x="544.5" y="12.5" width="0.9" height="0.8"/><rect x="537.8" y="9.7" width="0.7" height="0.7"/><rect x="543.5" y="9.7" width="0.7" height="0.7"/><rect x="537.8" y="15.4" width="0.7" height="0.7"/><rect x="543.5" y="15.4" width="0.7" height="0.7"/></g>
<path d="M540.1,9.6 L541.2,12.8 L543.6,12.3" stroke="#202020" stroke-width="1.1" fill="none"/>
<rect x="572.1" y="5.9" width="16" height="14.2" rx="0.6" fill="#3878C0"/>
<rect x="573.2" y="9.2" width="13.8" height="4.7" fill="#FFFFFF"/>
<rect x="573.2" y="15" width="13.8" height="4" fill="#FFFFFF"/>
<rect x="573.2" y="7" width="6" height="1" fill="#A8D0F8"/>
<path d="M574.2,12.5 H576.6 L578,11.4 L580,10.3 L581.8,11.4 H583.6 L585.2,10.5" stroke="#A02000" stroke-width="1.2" fill="none"/>
<path d="M575.3,17.5 L577.9,16.4 L580,17.5 L582.9,15.3 L585.6,17.5" stroke="#108020" stroke-width="1.2" fill="none"/>
<path d="M624,5.9 L624,17 L626.4,15 L628.4,19.8 L630.7,18.9 L628.8,14.2 L632.2,13.6 Z" fill="#505050"/>
<g fill="#505050" shape-rendering="crispEdges"><rect x="656" y="6" width="1" height="6"/><rect x="656" y="15" width="1" height="6"/><rect x="649" y="13" width="6" height="1"/><rect x="658" y="13" width="6" height="1"/><rect x="656" y="13" width="1" height="1" opacity="0.5"/></g>
<rect x="690" y="7" width="1" height="13" fill="#505050" shape-rendering="crispEdges"/>
<rect x="713" y="13" width="12" height="1" fill="#505050" shape-rendering="crispEdges"/>
<path d="M741,19.8 L753,7.8" stroke="#505050" stroke-width="1.1"/>
<g stroke="#505050" fill="none"><path d="M766.7,14.6 L774.7,7" stroke-width="0.9" stroke-dasharray="1.2 0.6"/><path d="M771.8,19.8 L781.2,11.2" stroke-width="0.9" stroke-dasharray="1.2 0.6"/><path d="M769.1,19.6 L769.3,12.4 L772.1,16.5 L772.5,11.2 L775.3,15.9 L775.8,9.1 L778.6,11.8 L778.4,5.2" stroke-width="1.4" stroke-linejoin="round"/></g>
<text x="777.7" y="22" font-size="6.9" font-weight="bold" fill="#404040" font-family="Liberation Sans, sans-serif">E</text>
<line x1="796" y1="6.5" x2="810" y2="6.5" stroke="#505050" stroke-width="1" stroke-dasharray="1 1" shape-rendering="crispEdges"/>
<line x1="796" y1="9.5" x2="810" y2="9.5" stroke="#505050" stroke-width="1" stroke-dasharray="1 1" shape-rendering="crispEdges"/>
<line x1="796" y1="13.5" x2="810" y2="13.5" stroke="#505050" stroke-width="1" stroke-dasharray="1 1" shape-rendering="crispEdges"/>
<line x1="796" y1="17.5" x2="806" y2="17.5" stroke="#505050" stroke-width="1" stroke-dasharray="1 1" shape-rendering="crispEdges"/>
<text x="805.7" y="22" font-size="6.9" font-weight="bold" fill="#404040" font-family="Liberation Sans, sans-serif">F</text>
<text transform="translate(826.5,18) scale(0.9,1)" font-size="12.7" fill="#4A4A4A" stroke="#4A4A4A" stroke-width="0.15" font-family="Liberation Sans, sans-serif">A</text>
<rect x="853.5" y="7.5" width="11" height="12" fill="none" stroke="#505050" stroke-width="1" stroke-dasharray="1 1" shape-rendering="crispEdges"/>
<g fill="#505050"><rect x="855" y="9.9" width="8" height="1.25"/><rect x="858.2" y="9.9" width="1.5" height="8.1"/><rect x="852.2" y="6.2" width="1.6" height="1"/></g>
<path d="M883.3,7 L886.8,10.6 L885.4,11.9 L881.4,11.9 L880,10.6 Z" fill="#505050"/>
<path d="M888.7,14.8 L892.4,14.8 L894,16.1 L890.5,19.9 L887.2,16.1 Z" fill="#505050"/>
<path d="M882.4,14.4 L884.3,16.3 L888.6,11.3" fill="none" stroke="#505050" stroke-width="1.4"/>
<text x="926.9" y="17" font-size="10" fill="#3A3A3A" letter-spacing="-0.1" font-family="Liberation Sans, sans-serif">M1</text>
<text x="955.0" y="17" font-size="10" fill="#3A3A3A" letter-spacing="-0.1" font-family="Liberation Sans, sans-serif">M5</text>
<text x="981.1" y="17" font-size="10" fill="#3A3A3A" letter-spacing="-0.1" font-family="Liberation Sans, sans-serif">M15</text>
<text x="1009.0" y="17" font-size="10" fill="#3A3A3A" letter-spacing="-0.1" font-family="Liberation Sans, sans-serif">M30</text>
<text x="1039.8" y="17" font-size="10" fill="#3A3A3A" letter-spacing="-0.1" font-family="Liberation Sans, sans-serif">H1</text>
<text x="1066.6" y="17" font-size="10" fill="#3A3A3A" letter-spacing="-0.1" font-family="Liberation Sans, sans-serif">H4</text>
<text x="1095.9" y="17" font-size="10" fill="#3A3A3A" letter-spacing="-0.1" font-family="Liberation Sans, sans-serif">D1</text>
<text x="1124.0" y="17" font-size="10" fill="#3A3A3A" letter-spacing="-0.1" font-family="Liberation Sans, sans-serif">W1</text>
<text x="1150.0" y="17" font-size="10" fill="#3A3A3A" letter-spacing="-0.1" font-family="Liberation Sans, sans-serif">MN</text>
<path d="M1640.2,13.8 L1636.4,17.6" stroke="#2858C8" stroke-width="2.4" stroke-linecap="round"/>
<circle cx="1643.7" cy="10.4" r="3.9" fill="#F4F8FF" stroke="#2C60D0" stroke-width="1.3"/>
<path d="M1660.6,15.4 a5.4,4.6 0 0 1 5.4,-4.8 h2 a5.4,4.6 0 0 1 0,9.4 h-3 l-2.2,1.8 l0.4,-2.2 a5,4.4 0 0 1 -2.6,-4.2 z" fill="#E4E6EE" stroke="#B0B0B0" stroke-width="0.8"/>
<circle cx="1674.6" cy="10.3" r="8.3" fill="url(#gRed)"/>
<text x="1674.4" y="15" font-size="12.5" fill="#FFFFFF" text-anchor="middle" font-family="Liberation Sans, sans-serif">1</text>
<text x="30.6" y="15.7" font-size="12.1" fill="#000" stroke="#000" stroke-width="0.2" letter-spacing="0.2" style="font-family:'Liberation Sans','Noto Sans CJK SC',sans-serif">新订单</text>
<text x="182.2" y="16.2" font-size="12" fill="#000" stroke="#000" stroke-width="0.2" letter-spacing="0.25" style="font-family:'Liberation Sans','Noto Sans CJK SC',sans-serif">自动交易</text>
</g>
</svg>
</body></html>
